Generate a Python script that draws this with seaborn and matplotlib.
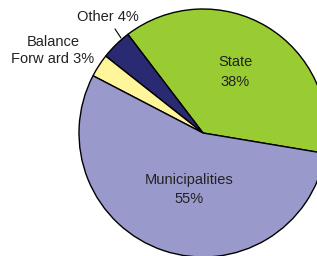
#!/usr/bin/env python3
# Revenue sources pie chart

import seaborn as sns
import matplotlib.pyplot as plt

# data, counter-clockwise from the State slice
sources = ["State", "Other", "Balance Forward", "Municipalities"]
shares = [38, 4, 3, 55]
colors = ["#99cc33", "#2a2a72", "#fff59b", "#9999cc"]

sns.set_style("white")
plt.rcParams['font.family'] = ['Liberation Sans', 'DejaVu Sans']

W, H = 317, 256
fig = plt.figure(figsize=(W / 100, H / 100), dpi=100)
ax = fig.add_axes([0, 0, 1, 1])

ax.pie(shares, colors=colors, startangle=-9.5, counterclock=True,
       center=(203, H - 133), radius=124,
       wedgeprops=dict(edgecolor="black", linewidth=1.0))

fs = 10.5
txt = "#222222"
ax.text(235, H - 72, "State\n38%", ha="center", va="center", fontsize=fs, color=txt, linespacing=1.5)
ax.text(189, H - 189.5, "Municipalities\n55%", ha="center", va="center", fontsize=fs, color=txt, linespacing=1.5)
ax.text(107.5, H - 17, "Other 4%", ha="center", va="center", fontsize=fs, color=txt)
ax.text(53, H - 50.5, "Balance\nForw ard 3%", ha="center", va="center", fontsize=fs, color=txt, linespacing=1.35)
ax.plot([115, 121], [H - 29, H - 38], color="black", linewidth=0.8)

ax.set_xlim(0, W)
ax.set_ylim(0, H)
ax.set_aspect("equal")
ax.axis("off")

fig.savefig("out.png", dpi=100)
